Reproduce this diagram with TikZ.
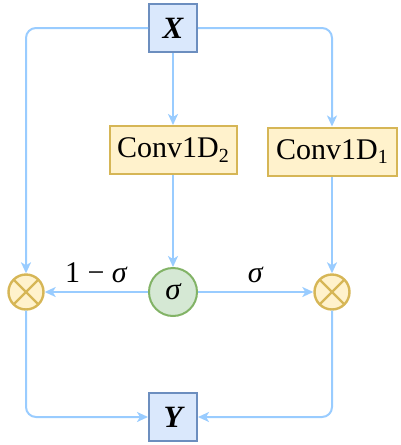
\documentclass[tikz,border=0pt]{standalone}
\usepackage{fontspec}
\setmainfont{Liberation Serif}
\usetikzlibrary{arrows.meta}
\definecolor{lineblue}{HTML}{99CCFF}
\definecolor{bluedraw}{HTML}{6C8EBF}
\definecolor{bluefill}{HTML}{DAE8FC}
\definecolor{convdraw}{HTML}{D6B656}
\definecolor{convfill}{HTML}{FFF2CC}
\definecolor{greendraw}{HTML}{82B366}
\definecolor{greenfill}{HTML}{D5E8D4}
\begin{document}
\begin{tikzpicture}[x=1pt,y=-1pt,
  conn/.style={draw=lineblue, line width=2pt, rounded corners=10pt,
    -{Stealth[length=11pt,width=10pt,inset=3pt]}},
  iobox/.style={draw=bluedraw, fill=bluefill, line width=2pt,
    minimum width=48pt, minimum height=48pt, inner sep=0pt,
    font=\fontsize{31}{31}\selectfont\bfseries\itshape},
  convbox/.style={draw=convdraw, fill=convfill, line width=2pt,
    minimum width=127pt, minimum height=48pt, inner sep=0pt,
    font=\fontsize{30}{30}\selectfont},
  mult/.style={circle, draw=convdraw, fill=convfill, line width=2.4pt,
    minimum size=35pt, inner sep=0pt,
    path picture={\draw[convdraw, line width=2.4pt]
      (path picture bounding box.north west) -- (path picture bounding box.south east)
      (path picture bounding box.north east) -- (path picture bounding box.south west);}},
  gate/.style={circle, draw=greendraw, fill=greenfill, line width=2pt,
    minimum size=48pt, inner sep=0pt, font=\fontsize{31}{31}\selectfont\itshape},
  lbl/.style={inner sep=0pt, font=\fontsize{30}{30}\selectfont}
]
\useasboundingbox (0,0) rectangle (400,445);
\node[iobox] (X) at (173,28) {X};
\node[convbox] (c2) at (173,150) {Conv1D\raisebox{-4.5pt}{\fontsize{20}{20}\selectfont 2}};
\node[convbox, minimum width=129pt] (c1) at (332,151.5) {Conv1D\raisebox{-4.5pt}{\fontsize{20}{20}\selectfont 1}};
\node[gate] (sig) at (173,292) {σ};
\node[mult] (m1) at (26,292) {};
\node[mult] (m2) at (332,292) {};
\node[iobox] (Y) at (173,417) {Y};
\draw[conn] (X.west) -| (m1.north);
\draw[conn] (X.east) -| (c1.north);
\draw[conn] (X.south) -- (c2.north);
\draw[conn] (c2.south) -- (sig.north);
\draw[conn] (c1.south) -- (m2.north);
\draw[conn] (sig.west) -- node[lbl, above=8pt] {1 − \textit{σ}} (m1.east);
\draw[conn] (sig.east) -- node[lbl, above=8pt] {\textit{σ}} (m2.west);
\draw[conn] (m1.south) |- (Y.west);
\draw[conn] (m2.south) |- (Y.east);
\end{tikzpicture}
\end{document}
